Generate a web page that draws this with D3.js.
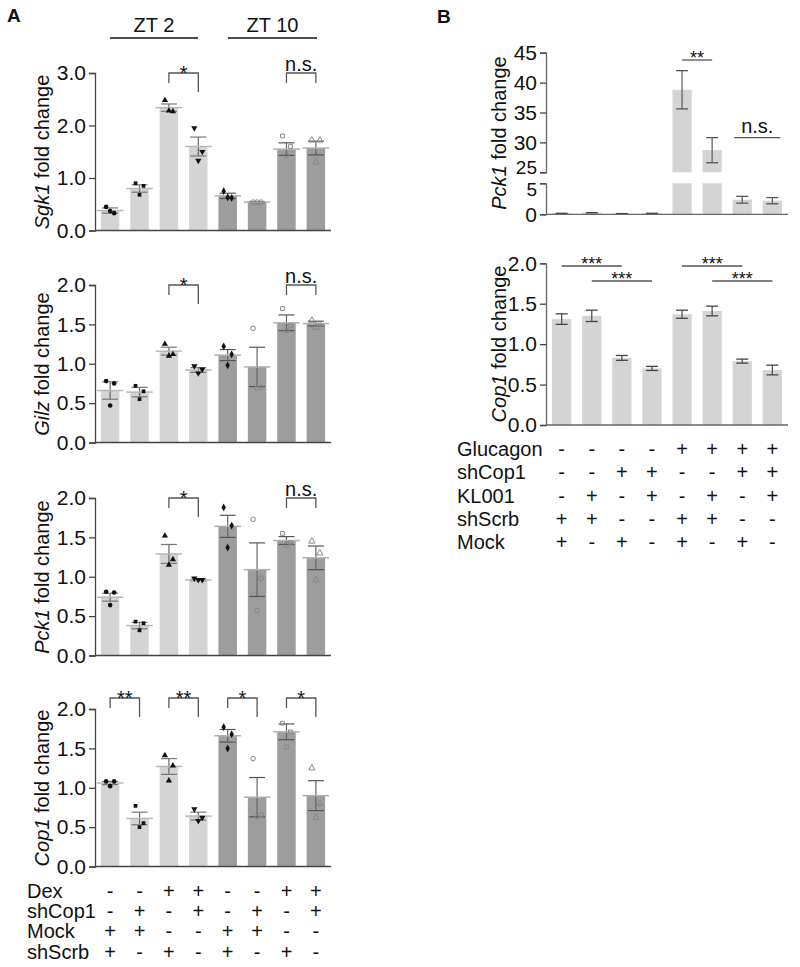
<!DOCTYPE html>
<html>
<head>
<meta charset="utf-8">
<script src="https://cdn.jsdelivr.net/npm/d3@7"></script>
<style>
  body { margin: 0; background: #fff; }
  svg text { font-family: "Liberation Sans", Arial, sans-serif; fill: #111; }
</style>
</head>
<body>
<svg id="fig" width="800" height="967"></svg>
<script>
// ---------- Panel A data ----------
const groupsA = ["g1", "g2", "g3", "g4", "g5", "g6", "g7", "g8"];
const sgk1Mean = [0.38, 0.80, 2.34, 1.60, 0.66, 0.54, 1.55, 1.57];
const sgk1Sem  = [0.05, 0.07, 0.07, 0.18, 0.05, 0.01, 0.12, 0.13];
const sgk1Pts  = [[0.45, 0.33, 0.37], [0.90, 0.85, 0.68], [2.48, 2.27, 2.28], [1.95, 1.50, 1.33],
                  [0.75, 0.62, 0.63], [0.54, 0.54, 0.54], [1.80, 1.60, 1.43], [1.72, 1.72, 1.30]];
const gilzMean = [0.66, 0.64, 1.16, 0.92, 1.11, 0.96, 1.52, 1.51];
const gilzSem  = [0.11, 0.06, 0.05, 0.03, 0.07, 0.25, 0.10, 0.03];
const gilzPts  = [[0.78, 0.75, 0.47], [0.72, 0.65, 0.55], [1.25, 1.12, 1.10], [0.97, 0.93, 0.88],
                  [1.22, 1.12, 0.98], [1.45, 0.70, 0.69], [1.70, 1.48, 1.42], [1.55, 1.50, 1.46]];
const pckAMean = [0.74, 0.38, 1.29, 0.96, 1.64, 1.09, 1.46, 1.24];
const pckASem  = [0.05, 0.04, 0.12, 0.01, 0.14, 0.34, 0.05, 0.15];
const pckAPts  = [[0.81, 0.80, 0.64], [0.43, 0.41, 0.32], [1.52, 1.22, 1.15], [0.98, 0.96, 0.96],
                  [1.88, 1.65, 1.37], [1.73, 0.98, 0.57], [1.55, 1.43, 1.40], [1.45, 1.30, 0.96]];
const copAMean = [1.06, 0.61, 1.27, 0.64, 1.66, 0.88, 1.71, 0.90];
const copASem  = [0.02, 0.08, 0.10, 0.05, 0.08, 0.25, 0.10, 0.19];
const copAPts  = [[1.08, 1.08, 1.02], [0.77, 0.55, 0.50], [1.41, 1.28, 1.09], [0.73, 0.62, 0.58],
                  [1.77, 1.68, 1.50], [1.37, 0.66, 0.63], [1.82, 1.71, 1.52], [1.25, 0.80, 0.62]];
const tableALabels = ["Dex", "shCop1", "Mock", "shScrb"];
const tableARows = [
  ["-", "-", "+", "+", "-", "-", "+", "+"],
  ["-", "+", "-", "+", "-", "+", "-", "+"],
  ["+", "+", "-", "-", "+", "+", "-", "-"],
  ["+", "-", "+", "-", "+", "-", "+", "-"]
];

// ---------- Panel B data ----------
const groupsB = ["b1", "b2", "b3", "b4", "b5", "b6", "b7", "b8"];
const pckBMean = [0.15, 0.25, 0.10, 0.15, 38.8, 28.7, 2.35, 2.2];
const pckBSem  = [0.05, 0.05, 0.04, 0.05, 3.2, 2.1, 0.55, 0.5];
const copBMean = [1.31, 1.35, 0.83, 0.70, 1.37, 1.41, 0.79, 0.68];
const copBSem  = [0.065, 0.07, 0.03, 0.025, 0.05, 0.06, 0.025, 0.06];
const tableBLabels = ["Glucagon", "shCop1", "KL001", "shScrb", "Mock"];
const tableBRows = [
  ["-", "-", "-", "-", "+", "+", "+", "+"],
  ["-", "-", "+", "+", "-", "-", "+", "+"],
  ["-", "+", "-", "+", "-", "+", "-", "+"],
  ["+", "+", "-", "-", "+", "+", "-", "-"],
  ["+", "-", "+", "-", "+", "-", "+", "-"]
];

const LIGHT = "#d4d4d4", DARK = "#9d9d9d", AXIS = "#444";
const svg = d3.select("#fig");

// marker for each group in panel A
const markerA = [
  {type: d3.symbolCircle, fill: true}, {type: d3.symbolSquare, fill: true},
  {type: d3.symbolTriangle, fill: true}, {type: d3.symbolTriangle, fill: true, flip: true},
  {type: d3.symbolDiamond, fill: true}, {type: d3.symbolCircle, fill: false},
  {type: d3.symbolSquare, fill: false}, {type: d3.symbolTriangle, fill: false}
];
const jitter = [-4, 4, 0];

const xA = d3.scaleBand().domain(groupsA).range([95, 331]).paddingInner(0.37).paddingOuter(0.2);
const xB = d3.scaleBand().domain(groupsB).range([546, 788]).paddingInner(0.36).paddingOuter(0.2);

function yAxis(g, y, ticks, fmt) {
  const ax = g.append("g").attr("transform", `translate(${y.x0},0)`)
    .call(d3.axisLeft(y).tickValues(ticks).tickFormat(fmt).tickSize(6).tickPadding(3));
  ax.select(".domain").attr("stroke", AXIS).attr("stroke-width", 1.3);
  ax.selectAll(".tick line").attr("stroke", AXIS).attr("stroke-width", 1.3);
  ax.selectAll(".tick text").style("font-size", "21px").attr("fill", "#111");
  return ax;
}

function yLabel(x, yc, italic, rest) {
  const t = svg.append("text")
    .attr("transform", `translate(${x},${yc}) rotate(-90)`)
    .attr("text-anchor", "middle").style("font-size", "20px");
  t.append("tspan").style("font-style", "italic").text(italic);
  t.append("tspan").text(rest);
}

function bracket(x, i, j, yTop, label, ns) {
  const x1 = x(x.domain()[i]) + x.bandwidth() / 2;
  const x2 = x(x.domain()[j]) + x.bandwidth() / 2;
  const legR = ns ? 10 : 19;
  svg.append("path")
    .attr("d", `M${x1},${yTop + 10}V${yTop}H${x2}V${yTop + legR}`)
    .attr("fill", "none").attr("stroke", "#555").attr("stroke-width", 1.3);
  svg.append("text").attr("x", (x1 + x2) / 2).attr("y", ns ? yTop - 2 : yTop + 7)
    .attr("text-anchor", "middle").style("font-size", "20px").text(label);
}

function panelA(top, mean, sem, pts, domainMax, ticks, italic, rest, brackets) {
  const y = d3.scaleLinear().domain([0, domainMax]).range([top + 157.5, top]);
  y.x0 = 95;
  const g = svg.append("g");
  const bw = xA.bandwidth();
  groupsA.forEach((k, i) => {
    const x0 = xA(k), cx = x0 + bw / 2;
    g.append("rect").attr("x", x0).attr("width", bw)
      .attr("y", y(mean[i])).attr("height", y(0) - y(mean[i]))
      .attr("fill", i < 4 ? LIGHT : DARK);
    // error bar
    g.append("line").attr("x1", cx).attr("x2", cx)
      .attr("y1", y(mean[i] - sem[i])).attr("y2", y(mean[i] + sem[i]))
      .attr("stroke", "#666").attr("stroke-width", 1.2);
    [mean[i] - sem[i], mean[i] + sem[i]].forEach(v => {
      g.append("line").attr("x1", cx - 8).attr("x2", cx + 8)
        .attr("y1", y(v)).attr("y2", y(v)).attr("stroke", i < 4 ? "#777" : "#555").attr("stroke-width", 1.2);
    });
    // mean line wider than bar
    g.append("line").attr("x1", x0 - 4).attr("x2", x0 + bw + 4)
      .attr("y1", y(mean[i])).attr("y2", y(mean[i]))
      .attr("stroke", i < 4 ? "#b8b8b8" : "#b0b0b0").attr("stroke-width", 1.5);
    // points
    const m = markerA[i];
    pts[i].forEach((v, p) => {
      g.append("path")
        .attr("d", d3.symbol().type(m.type).size(m.type === d3.symbolSquare ? 14 : 17)())
        .attr("transform", `translate(${cx + jitter[p]},${y(v)})${m.flip ? " rotate(180)" : ""}`)
        .attr("fill", m.fill ? "#111" : "none")
        .attr("stroke", m.fill ? "none" : "#888").attr("stroke-width", 1);
    });
  });
  // x axis line
  g.append("line").attr("x1", 95).attr("x2", 331).attr("y1", y(0)).attr("y2", y(0))
    .attr("stroke", AXIS).attr("stroke-width", 1.5);
  yAxis(g, y, ticks, d3.format(".1f"));
  yLabel(49, top + 79, italic, rest);
  brackets.forEach(b => bracket(xA, b[0], b[1], b[2] === "top" ? top : top - 11, b[3], b[3] === "n.s."));
}

// ---------- Panel A ----------
svg.append("text").attr("x", 7).attr("y", 22).style("font-size", "19px").style("font-weight", "bold").text("A");
[["ZT 2", 110, 198], ["ZT 10", 228, 317]].forEach(d => {
  svg.append("text").attr("x", (d[1] + d[2]) / 2).attr("y", 32).attr("text-anchor", "middle")
    .style("font-size", "20px").text(d[0]);
  svg.append("line").attr("x1", d[1]).attr("x2", d[2]).attr("y1", 38).attr("y2", 38)
    .attr("stroke", "#111").attr("stroke-width", 1.6);
});

panelA(73, sgk1Mean, sgk1Sem, sgk1Pts, 3, [0, 1, 2, 3], "Sgk1", " fold change",
  [[2, 3, "top", "*"], [6, 7, "top", "n.s."]]);
panelA(285, gilzMean, gilzSem, gilzPts, 2, [0, 0.5, 1, 1.5, 2], "Gilz", " fold change",
  [[2, 3, "top", "*"], [6, 7, "top", "n.s."]]);
panelA(498, pckAMean, pckASem, pckAPts, 2, [0, 0.5, 1, 1.5, 2], "Pck1", " fold change",
  [[2, 3, "top", "*"], [6, 7, "top", "n.s."]]);
panelA(709, copAMean, copASem, copAPts, 2, [0, 0.5, 1, 1.5, 2], "Cop1", " fold change",
  [[0, 1, "up", "**"], [2, 3, "up", "**"], [4, 5, "up", "*"], [6, 7, "up", "*"]]);

function table(x, labels, rows, labelX, y0, dy) {
  labels.forEach((lab, r) => {
    const yy = y0 + r * dy;
    svg.append("text").attr("x", labelX).attr("y", yy).style("font-size", "20px").text(lab);
    rows[r].forEach((s, c) => {
      svg.append("text").attr("x", x(x.domain()[c]) + x.bandwidth() / 2).attr("y", yy)
        .attr("text-anchor", "middle").style("font-size", "20px").text(s);
    });
  });
}
table(xA, tableALabels, tableARows, 27, 898, 20.2);

// ---------- Panel B ----------
svg.append("text").attr("x", 437).attr("y", 23).style("font-size", "19px").style("font-weight", "bold").text("B");

// broken-axis Pck1
const yUp = d3.scaleLinear().domain([25, 45]).range([172.3, 52.7]);
const yLo = d3.scaleLinear().domain([0, 5]).range([214.3, 183.3]);
yUp.x0 = 546; yLo.x0 = 546;
const gB = svg.append("g");
const bwB = xB.bandwidth();
groupsB.forEach((k, i) => {
  const x0 = xB(k), cx = x0 + bwB / 2, v = pckBMean[i];
  gB.append("rect").attr("x", x0).attr("width", bwB)
    .attr("y", yLo(Math.min(v, 5))).attr("height", yLo(0) - yLo(Math.min(v, 5))).attr("fill", LIGHT);
  if (v > 25) {
    gB.append("rect").attr("x", x0).attr("width", bwB)
      .attr("y", yUp(v)).attr("height", yUp(25) - yUp(v)).attr("fill", LIGHT);
  }
  const ys = v > 25 ? yUp : yLo;
  const lo = ys(v - pckBSem[i]), hi = ys(v + pckBSem[i]);
  if (v > 1) {
    gB.append("line").attr("x1", cx).attr("x2", cx).attr("y1", lo).attr("y2", hi)
      .attr("stroke", "#666").attr("stroke-width", 1.3);
    [lo, hi].forEach(yy => gB.append("line").attr("x1", cx - 6).attr("x2", cx + 6)
      .attr("y1", yy).attr("y2", yy).attr("stroke", "#555").attr("stroke-width", 1.3));
  } else {
    gB.append("line").attr("x1", cx - 6).attr("x2", cx + 6).attr("y1", ys(v)).attr("y2", ys(v))
      .attr("stroke", "#444").attr("stroke-width", 1.5);
  }
});
gB.append("line").attr("x1", 546).attr("x2", 788).attr("y1", yLo(0)).attr("y2", yLo(0))
  .attr("stroke", "#666").attr("stroke-width", 1.3);
const axUp = yAxis(gB, yUp, [25, 30, 35, 40, 45], d3.format("d"));
const axLo = yAxis(gB, yLo, [0, 5], d3.format("d"));
// labels at the break sit tight in the original; shrink them a little so they don't collide
axUp.selectAll(".tick text").filter(d => d === 25).style("font-size", "19px").attr("dy", "0.05em");
axLo.selectAll(".tick text").filter(d => d === 5).style("font-size", "19px").attr("dy", "0.62em");
gB.selectAll(".domain").attr("stroke", "#666");
yLabel(506, 133, "Pck1", " fold change");

function sigLine(i, j, yy, label, ns) {
  const x1 = xB(groupsB[i]) + bwB / 2 + (ns ? -8 : 0), x2 = xB(groupsB[j]) + bwB / 2 + (ns ? 8 : 0);
  svg.append("line").attr("x1", x1).attr("x2", x2).attr("y1", yy).attr("y2", yy)
    .attr("stroke", "#555").attr("stroke-width", 1.3);
  svg.append("text").attr("x", (x1 + x2) / 2).attr("y", ns ? yy - 5 : yy + 4)
    .attr("text-anchor", "middle").style("font-size", ns ? "20px" : "18px").text(label);
}
sigLine(4, 5, 60, "**", false);
sigLine(6, 7, 137.7, "n.s.", true);

// Cop1 panel B
const yC = d3.scaleLinear().domain([0, 2]).range([425, 263.3]);
yC.x0 = 546;
const gC = svg.append("g");
groupsB.forEach((k, i) => {
  const x0 = xB(k), cx = x0 + bwB / 2, v = copBMean[i];
  gC.append("rect").attr("x", x0).attr("width", bwB)
    .attr("y", yC(v)).attr("height", yC(0) - yC(v)).attr("fill", LIGHT);
  const lo = yC(v - copBSem[i]), hi = yC(v + copBSem[i]);
  gC.append("line").attr("x1", cx).attr("x2", cx).attr("y1", lo).attr("y2", hi)
    .attr("stroke", "#555").attr("stroke-width", 1.3);
  [lo, hi].forEach(yy => gC.append("line").attr("x1", cx - 6).attr("x2", cx + 6)
    .attr("y1", yy).attr("y2", yy).attr("stroke", "#444").attr("stroke-width", 1.3));
});
gC.append("line").attr("x1", 546).attr("x2", 788).attr("y1", yC(0)).attr("y2", yC(0))
  .attr("stroke", "#666").attr("stroke-width", 1.3);
yAxis(gC, yC, [0, 0.5, 1, 1.5, 2], d3.format(".1f"));
gC.selectAll(".domain").attr("stroke", "#666");
yLabel(506, 344, "Cop1", " fold change");

sigLine(0, 2, 266, "***", false);
sigLine(1, 3, 281, "***", false);
sigLine(4, 6, 266, "***", false);
sigLine(5, 7, 281, "***", false);

table(xB, tableBLabels, tableBRows, 457, 456, 23.3);
</script>
</body>
</html>
